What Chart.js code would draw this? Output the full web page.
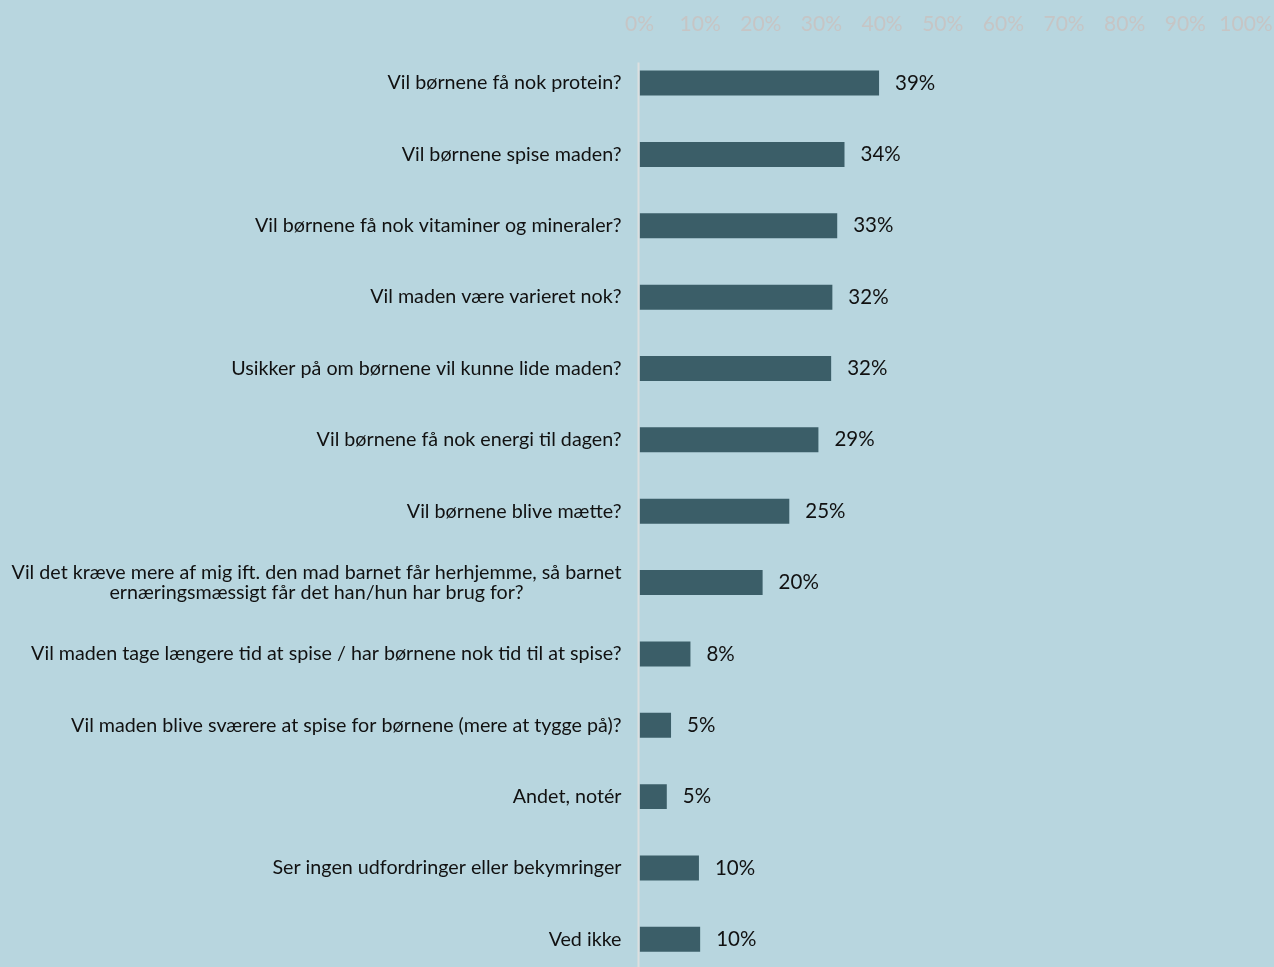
<!DOCTYPE html>
<html>
<head>
<meta charset="utf-8">
<script src="https://cdn.jsdelivr.net/npm/chart.js@4.4.0/dist/chart.umd.min.js"></script>
<style>
  html, body { margin: 0; padding: 0; background: #b8d6df; overflow: hidden; }
  #wrap { position: relative; width: 1274px; height: 975px; }
</style>
</head>
<body>
<div id="wrap"><canvas id="c"></canvas></div>
<script>
const categories = [
  ["Vil børnene få nok protein?"],
  ["Vil børnene spise maden?"],
  ["Vil børnene få nok vitaminer og mineraler?"],
  ["Vil maden være varieret nok?"],
  ["Usikker på om børnene vil kunne lide maden?"],
  ["Vil børnene få nok energi til dagen?"],
  ["Vil børnene blive mætte?"],
  ["Vil det kræve mere af mig ift. den mad barnet får herhjemme, så barnet", "ernæringsmæssigt får det han/hun har brug for?"],
  ["Vil maden tage længere tid at spise / har børnene nok tid til at spise?"],
  ["Vil maden blive sværere at spise for børnene (mere at tygge på)?"],
  ["Andet, notér"],
  ["Ser ingen udfordringer eller bekymringer"],
  ["Ved ikke"]
];
const values = [39.5, 33.8, 32.6, 31.8, 31.6, 29.5, 24.7, 20.3, 8.4, 5.2, 4.5, 9.8, 10.0];
const valueLabels = ["39%", "34%", "33%", "32%", "32%", "29%", "25%", "20%", "8%", "5%", "5%", "10%", "10%"];
const tickValues = [0, 10, 20, 30, 40, 50, 60, 70, 80, 90, 100];

const FONT = "Lato, 'Open Sans', sans-serif";
const TEXT = "#111111";

const labelPlugin = {
  id: 'customLabels',
  afterDatasetsDraw(chart) {
    const ctx = chart.ctx;
    const xs = chart.scales.x, ys = chart.scales.y;
    const area = chart.chartArea;
    ctx.save();
    // zero axis line
    const x0 = xs.getPixelForValue(0);
    ctx.strokeStyle = '#dcdfe0';
    ctx.lineWidth = 2;
    ctx.beginPath();
    ctx.moveTo(x0 - 1, area.top + 15);
    ctx.lineTo(x0 - 1, chart.height);
    ctx.stroke();

    // category labels (right aligned block, lines centered within block)
    ctx.font = "19.7px " + FONT;
    ctx.fillStyle = TEXT;
    ctx.textBaseline = 'middle';
    ctx.textAlign = 'center';
    const right = x0 - 18;
    const lh = 20;
    categories.forEach((lines, i) => {
      const y = ys.getPixelForValue(i);
      const w = Math.max(...lines.map(l => ctx.measureText(l).width));
      const cx = right - w / 2;
      const y0 = y - (lines.length - 1) * lh / 2;
      lines.forEach((l, k) => ctx.fillText(l, cx, y0 + k * lh));
    });

    // value labels
    ctx.font = "20.5px " + FONT;
    ctx.textAlign = 'left';
    const meta = chart.getDatasetMeta(0);
    meta.data.forEach((bar, i) => {
      ctx.fillText(valueLabels[i], bar.x + 16, bar.y);
    });
    ctx.restore();
  }
};

new Chart(document.getElementById('c'), {
  type: 'bar',
  data: {
    labels: categories,
    datasets: [{
      data: values,
      backgroundColor: '#3b5e68',
      borderWidth: 0,
      barPercentage: 0.7,
      categoryPercentage: 0.5
    }]
  },
  options: {
    indexAxis: 'y',
    responsive: true,
    maintainAspectRatio: false,
    animation: false,
    layout: { padding: { left: 0, right: 28, top: 0, bottom: 0 } },
    plugins: { legend: { display: false }, tooltip: { enabled: false } },
    scales: {
      x: {
        position: 'top',
        min: 0, max: 100,
        afterBuildTicks(s) { s.ticks = tickValues.map(v => ({ value: v })); },
        afterFit(s) { s.height = 47.4; s.paddingLeft = 0; s.paddingRight = 0; },
        grid: { display: false, drawTicks: false },
        border: { display: false },
        ticks: {
          padding: 11,
          color: '#c6c5c5',
          font: { family: FONT, size: 21 },
          callback: v => v + '%',
          maxRotation: 0,
          autoSkip: false
        }
      },
      y: {
        afterFit(s) { s.width = 639.5; },
        grid: { display: false, drawTicks: false },
        border: { display: false },
        ticks: { display: false }
      }
    }
  },
  plugins: [labelPlugin]
});
</script>
</body>
</html>
